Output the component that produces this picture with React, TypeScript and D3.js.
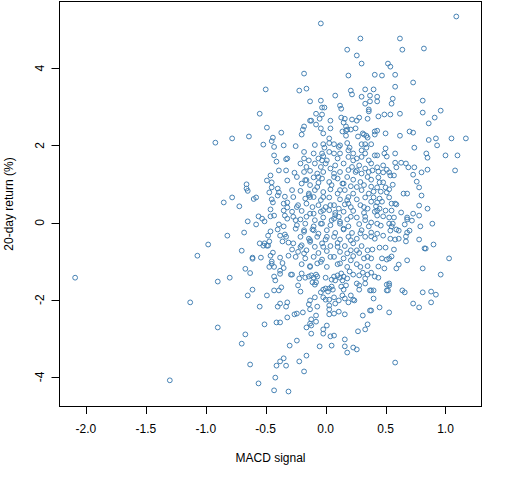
import React from "react";
import * as d3 from "d3";

// Each entry: [MACD signal, 20-day return (%)], grouped by region of the plot
const leftTail: [number, number][] = [
  [-2.09, -1.43], [-1.30, -4.09], [-1.13, -2.07], [-1.07, -0.86], [-0.98, -0.57],
  [-0.50, 3.45], [-0.55, 2.82], [-0.49, 2.46], [-0.37, 2.33], [-0.64, 2.23], [-0.78, 2.18], [-0.44, 2.20],
];

const leftMid: [number, number][] = [
  [-0.92, 2.07], [-0.52, 2.02], [-0.45, 2.11], [-0.43, 1.96], [-0.35, 2.00], [-0.43, 1.74], [-0.32, 1.66],
  [-0.33, 1.64], [-0.41, 1.58], [-0.39, 1.35], [-0.33, 1.35], [-0.46, 1.22], [-0.49, 1.09], [-0.45, 1.04],
  [-0.32, 1.09], [-0.66, 0.99], [-0.45, 0.91], [-0.66, 0.88], [-0.65, 0.82], [-0.40, 0.88], [-0.47, 0.78],
  [-0.39, 0.78], [-0.40, 0.70], [-0.34, 0.67], [-0.78, 0.65], [-0.58, 0.65], [-0.60, 0.61], [-0.45, 0.60],
  [-0.85, 0.52], [-0.44, 0.52], [-0.32, 0.52], [-0.35, 0.49], [-0.72, 0.42], [-0.32, 0.39], [-0.46, 0.34],
  [-0.35, 0.31], [-0.43, 0.18], [-0.34, 0.18], [-0.56, 0.16], [-0.53, 0.10], [-0.46, 0.16], [-0.32, 0.10],
  [-0.51, 0.03], [-0.65, 0.03], [-0.58, -0.05], [-0.39, -0.05], [-0.35, -0.10], [-0.46, -0.23], [-0.40, -0.18],
  [-0.68, -0.26], [-0.48, -0.34], [-0.38, -0.34], [-0.34, -0.31], [-0.82, -0.34], [-0.33, -0.37], [-0.36, -0.49],
  [-0.47, -0.49], [-0.55, -0.54], [-0.51, -0.54], [-0.49, -0.60], [-0.52, -0.60], [-0.48, -0.60], [-0.31, -0.52],
  [-0.70, -0.73], [-0.44, -0.78], [-0.46, -0.86], [-0.61, -0.91], [-0.61, -0.94], [-0.54, -0.91], [-0.38, -0.91],
  [-0.31, -0.86], [-0.45, -1.01], [-0.45, -1.07], [-0.36, -1.05], [-0.47, -1.15], [-0.43, -1.15], [-0.67, -1.20],
  [-0.35, -1.18],
];

const leftLow: [number, number][] = [
  [-0.63, -1.31], [-0.38, -1.25], [-0.38, -1.33], [-0.29, -1.35], [-0.90, -1.53], [-0.80, -1.43], [-0.43, -1.40],
  [-0.42, -1.50], [-0.37, -1.68], [-0.39, -1.76], [-0.43, -1.76], [-0.61, -1.74], [-0.65, -1.89], [-0.49, -1.89],
  [-0.55, -2.18], [-0.38, -2.10], [-0.40, -2.18], [-0.33, -2.18], [-0.32, -2.07], [-0.32, -2.46], [-0.90, -2.72],
  [-0.51, -2.64], [-0.41, -2.59], [-0.38, -2.59], [-0.67, -2.90], [-0.70, -3.14], [-0.30, -3.19], [-0.35, -3.52],
  [-0.38, -3.60], [-0.41, -3.71], [-0.33, -3.71], [-0.63, -3.68], [-0.42, -4.02], [-0.56, -4.17], [-0.43, -4.35],
  [-0.31, -4.38],
];

const centerTop: [number, number][] = [
  [-0.04, 5.16], [0.29, 4.77], [0.18, 4.48], [0.26, 4.33], [0.30, 4.12], [-0.18, 3.86], [0.19, 3.81],
  [-0.22, 3.42], [-0.16, 3.47], [0.21, 3.42], [0.33, 3.45], [0.22, 3.32], [0.08, 3.29], [0.30, 3.26],
  [0.37, 3.29], [-0.13, 3.14], [-0.04, 3.16], [0.33, 3.08], [0.37, 3.14], [0.12, 3.03], [-0.03, 2.98],
  [-0.01, 2.98], [0.13, 2.95], [0.36, 2.93], [0.36, 2.88], [-0.08, 2.82], [-0.03, 2.80], [-0.05, 2.69],
  [0.13, 2.72], [0.16, 2.69], [0.22, 2.67], [0.28, 2.72], [0.26, 2.64], [0.35, 2.69], [-0.13, 2.64],
  [-0.12, 2.64], [0.04, 2.64], [-0.08, 2.54], [-0.18, 2.49], [-0.19, 2.41], [0.17, 2.49], [0.15, 2.59],
  [0.04, 2.44], [-0.04, 2.44], [0.18, 2.41], [0.21, 2.41], [0.25, 2.44], [0.14, 2.36], [0.17, 2.38],
  [-0.20, 2.28], [-0.02, 2.31], [0.17, 2.25], [0.27, 2.23], [0.31, 2.31], [0.32, 2.28], [0.34, 2.25],
  [0.35, 2.20], [0.03, 2.18],
];

const centerMid: [number, number][] = [
  [-0.25, 1.98], [-0.09, 2.01], [-0.02, 2.03], [-0.01, 1.94], [0.03, 2.06], [0.07, 2.03], [0.12, 2.00],
  [0.11, 1.96], [0.18, 2.06], [0.20, 1.94], [0.30, 2.03], [0.33, 2.03], [0.34, 1.94], [-0.18, 1.83],
  [-0.10, 1.79], [-0.02, 1.72], [0.03, 1.83], [0.07, 1.79], [0.12, 1.79], [0.19, 1.87], [0.23, 1.79],
  [0.30, 1.87], [0.33, 1.79], [-0.18, 1.66], [-0.14, 1.61], [-0.06, 1.66], [-0.03, 1.61], [0.10, 1.66],
  [0.19, 1.70], [0.26, 1.66], [0.30, 1.70], [0.36, 1.61], [-0.21, 1.53], [-0.16, 1.44], [-0.09, 1.53],
  [-0.04, 1.44], [0.00, 1.53], [0.04, 1.40], [0.08, 1.48], [0.15, 1.53], [0.22, 1.44], [0.28, 1.48],
  [0.33, 1.40], [-0.26, 1.29], [-0.18, 1.31], [-0.13, 1.34], [-0.07, 1.27], [-0.02, 1.31], [0.07, 1.27],
  [0.12, 1.31], [0.19, 1.36], [0.25, 1.31], [0.30, 1.27], [0.36, 1.31], [-0.24, 1.18], [-0.17, 1.10],
  [-0.10, 1.17], [-0.03, 1.14], [0.03, 1.05], [0.10, 1.14], [0.18, 1.18], [0.23, 1.11], [0.29, 1.05],
  [0.35, 1.18], [-0.20, 1.01], [-0.13, 0.97], [-0.06, 1.03], [0.05, 0.97], [0.14, 1.01], [0.21, 0.94],
  [0.32, 0.97], [-0.28, 0.84], [-0.21, 0.82], [-0.14, 0.75], [-0.09, 0.84], [-0.02, 0.79], [0.04, 0.86],
  [0.10, 0.75], [0.16, 0.84], [0.23, 0.75], [0.30, 0.84], [0.36, 0.75], [-0.27, 0.66], [-0.17, 0.62],
  [-0.10, 0.66], [-0.04, 0.58], [0.03, 0.65], [0.12, 0.60], [0.19, 0.66], [0.26, 0.60], [0.33, 0.65],
  [-0.23, 0.45], [-0.16, 0.49], [-0.11, 0.40], [-0.06, 0.45], [0.00, 0.40], [0.07, 0.45], [0.11, 0.36],
  [0.16, 0.47], [0.21, 0.40], [0.29, 0.45], [0.35, 0.36], [-0.28, 0.28], [-0.20, 0.30], [-0.13, 0.23],
  [-0.04, 0.28], [0.03, 0.32], [0.08, 0.25], [0.15, 0.28], [0.23, 0.30], [0.32, 0.25], [-0.27, 0.15],
  [-0.21, 0.08], [-0.16, 0.15], [-0.09, 0.06], [-0.02, 0.13], [0.05, 0.06], [0.11, 0.15], [0.18, 0.08],
  [0.26, 0.13], [0.33, 0.06], [-0.24, -0.07], [-0.17, -0.03], [-0.10, -0.10], [-0.03, -0.03], [0.04, -0.07],
  [0.12, -0.03], [0.19, -0.10], [0.28, -0.04], [0.36, -0.10], [-0.25, -0.16], [-0.18, -0.24], [-0.11, -0.18],
  [-0.06, -0.29], [0.01, -0.20], [0.08, -0.27], [0.15, -0.18], [0.22, -0.27], [0.30, -0.20], [-0.21, -0.37],
  [-0.14, -0.42], [-0.07, -0.37], [0.00, -0.44], [0.07, -0.37], [0.12, -0.44], [0.19, -0.37], [0.26, -0.42],
  [0.33, -0.37], [-0.27, -0.54], [-0.20, -0.59], [-0.13, -0.50], [-0.09, -0.63], [-0.03, -0.54], [0.04, -0.61],
  [0.10, -0.53], [0.16, -0.61], [0.23, -0.54], [0.30, -0.61], [-0.28, -0.70], [-0.23, -0.76], [-0.16, -0.72],
  [-0.06, -0.79], [0.01, -0.74], [0.12, -0.76], [0.21, -0.72], [0.28, -0.79], [0.35, -0.72], [-0.25, -0.89],
  [-0.17, -0.93], [-0.10, -0.89], [-0.03, -0.96], [0.07, -0.89], [0.15, -0.93], [0.23, -0.87], [0.32, -0.93],
  [-0.20, -1.08], [-0.13, -1.13], [-0.07, -1.06], [0.01, -1.15], [0.10, -1.08], [0.18, -1.15], [0.26, -1.08],
  [0.35, -1.13],
];

// extra overlapping points read from the crowded core
const centerDense: [number, number][] = [
  [-0.14, 0.71], [-0.13, 0.66], [0.04, 0.45], [0.08, 0.19], [0.07, 0.10], [0.18, 0.58], [0.19, 0.49],
  [-0.02, 0.32], [-0.04, -0.03], [0.12, 0.02], [0.15, -0.16], [-0.10, -0.20], [0.01, -0.37], [0.10, -0.63],
  [0.21, -0.46], [0.26, -0.72], [-0.13, -0.46], [-0.21, -0.63], [0.04, -0.89], [-0.04, -1.02], [0.12, -1.06],
  [0.21, -0.98], [0.26, 1.35], [0.23, 1.61], [0.01, 1.61], [-0.03, 1.79], [-0.16, 1.10], [-0.07, 0.92],
  [0.15, 1.01], [0.26, 0.92], [0.32, 0.40], [0.33, 0.15], [0.29, -0.28], [-0.24, 0.40], [-0.25, 0.06],
  [-0.18, -0.20], [-0.06, 1.18], [0.07, 1.18], [0.12, 0.84], [-0.02, 0.66], [-0.10, 0.23], [0.21, 0.15],
  [-0.18, -0.80], [-0.02, -0.63], [0.18, -0.80], [0.35, -0.89], [-0.13, -1.15], [0.29, -1.15],
];

const centerLow: [number, number][] = [
  [-0.28, -1.35], [-0.20, -1.32], [-0.22, -1.45], [-0.17, -1.43], [-0.14, -1.40], [-0.12, -1.37], [-0.10, -1.43],
  [-0.08, -1.35], [-0.07, -1.40], [-0.11, -1.55], [-0.09, -1.61], [-0.08, -1.55], [-0.23, -1.63], [0.00, -1.43],
  [0.05, -1.48], [0.07, -1.40], [0.08, -1.50], [0.10, -1.37], [0.12, -1.43], [0.13, -1.32], [0.15, -1.40],
  [0.14, -1.50], [0.18, -1.45], [0.20, -1.27], [0.23, -1.35], [0.28, -1.37], [0.31, -1.30], [0.33, -1.45],
  [0.35, -1.35], [0.26, -1.58], [0.28, -1.63], [0.33, -1.58], [-0.21, -1.79], [-0.04, -1.81], [-0.02, -1.74],
  [0.00, -1.71], [0.02, -1.79], [0.05, -1.66], [0.03, -1.71], [0.06, -1.74], [0.13, -1.66], [0.15, -1.74],
  [0.17, -1.63], [0.28, -1.74], [0.37, -1.76], [-0.09, -1.94], [-0.02, -1.94], [0.00, -2.00], [0.03, -2.00],
  [0.07, -1.94], [0.14, -1.89], [0.16, -1.97], [0.21, -1.89], [0.19, -2.07], [0.23, -2.00], [0.24, -2.02],
  [-0.13, -2.02], [-0.14, -2.12], [-0.07, -2.18], [0.03, -2.15], [0.11, -2.02], [0.08, -2.10], [0.03, -2.25],
  [-0.13, -2.25], [-0.26, -2.38], [-0.24, -2.36], [-0.19, -2.33], [-0.08, -2.41], [0.03, -2.38], [0.07, -2.36],
  [0.11, -2.31], [0.16, -2.38], [0.31, -2.41], [0.37, -2.28], [-0.12, -2.51], [-0.08, -2.57], [-0.13, -2.62],
  [-0.12, -2.67], [-0.16, -2.72], [0.01, -2.67], [-0.02, -2.77], [0.35, -2.64], [0.33, -2.77], [0.27, -2.82],
  [-0.12, -2.88], [-0.02, -2.88], [0.04, -2.95], [0.07, -2.93], [-0.24, -3.06], [0.16, -3.03], [-0.05, -3.21],
  [0.05, -3.19], [0.16, -3.21], [0.23, -3.24], [0.26, -3.29], [0.18, -3.37], [-0.16, -3.45], [-0.22, -3.60],
  [-0.18, -3.86],
];

const rightTop: [number, number][] = [
  [1.09, 5.34], [0.62, 4.77], [0.64, 4.48], [0.82, 4.51], [0.52, 4.12], [0.54, 4.04], [0.41, 3.83],
  [0.47, 3.81], [0.58, 3.83], [0.73, 3.63], [0.40, 3.45], [0.58, 3.52], [0.43, 3.26], [0.43, 3.14],
  [0.56, 3.21], [0.55, 3.08], [0.81, 3.16], [0.96, 2.90], [0.81, 2.85], [0.91, 2.72], [0.86, 2.57],
  [0.44, 2.75], [0.49, 2.80], [0.54, 2.80], [0.62, 2.82], [0.41, 2.36], [0.43, 2.38], [0.41, 2.28],
  [0.50, 2.31], [0.62, 2.25], [0.70, 2.36], [0.73, 2.33], [0.86, 2.14], [0.92, 2.18], [1.05, 2.18],
  [1.17, 2.18],
];

const rightMid: [number, number][] = [
  [0.38, 2.03], [0.50, 1.92], [0.74, 1.94], [0.93, 2.00], [0.41, 1.74], [0.43, 1.74], [0.49, 1.79],
  [0.51, 1.71], [0.58, 1.79], [0.84, 1.79], [0.85, 1.68], [1.00, 1.74], [1.10, 1.74], [0.38, 1.53],
  [0.43, 1.43], [0.48, 1.48], [0.51, 1.37], [0.58, 1.55], [0.63, 1.55], [0.67, 1.53], [0.59, 1.43],
  [0.69, 1.43], [0.74, 1.43], [0.85, 1.37], [0.80, 1.30], [0.73, 1.24], [1.08, 1.35], [0.39, 1.35],
  [0.44, 1.32], [0.48, 1.30], [0.53, 1.30], [0.54, 1.22], [0.57, 1.22], [0.44, 1.17], [0.38, 1.11],
  [0.45, 1.04], [0.48, 1.04], [0.56, 0.98], [0.76, 1.06], [0.38, 0.93], [0.43, 0.91], [0.50, 0.91],
  [0.53, 0.86], [0.78, 0.91], [0.40, 0.80], [0.46, 0.80], [0.51, 0.78], [0.65, 0.75], [0.68, 0.75],
  [0.80, 0.70], [0.40, 0.65], [0.45, 0.62], [0.53, 0.65], [0.38, 0.54], [0.43, 0.52], [0.47, 0.54],
  [0.55, 0.49], [0.58, 0.49], [0.59, 0.47], [0.78, 0.44], [0.85, 0.36], [0.42, 0.42], [0.45, 0.36],
  [0.50, 0.31], [0.55, 0.31], [0.41, 0.28], [0.43, 0.31], [0.63, 0.26], [0.73, 0.23], [0.78, 0.18],
  [0.43, 0.18], [0.48, 0.16], [0.53, 0.13], [0.57, 0.13], [0.68, 0.13], [0.68, 0.08], [0.72, 0.05],
  [0.38, 0.00], [0.43, -0.03], [0.46, -0.08], [0.53, -0.03], [0.56, -0.03], [0.66, -0.05], [0.89, -0.03],
  [0.79, -0.10], [0.55, -0.10], [0.59, -0.18], [0.54, -0.21], [0.61, -0.21], [0.70, -0.21], [0.68, -0.26],
  [0.38, -0.26], [0.43, -0.29], [0.48, -0.34], [0.38, -0.36], [0.41, -0.42], [0.54, -0.42], [0.58, -0.44],
  [0.61, -0.42], [0.67, -0.36], [0.67, -0.49], [0.78, -0.44], [0.90, -0.57], [0.39, -0.70], [0.45, -0.65],
  [0.50, -0.65], [0.57, -0.70], [0.825, -0.67], [0.835, -0.675], [0.55, -0.88], [0.38, -0.93], [0.47, -0.93],
  [0.51, -0.96], [0.53, -0.93], [0.68, -0.98], [1.03, -0.93], [0.61, -1.09], [0.44, -1.14], [0.49, -1.19],
  [0.59, -1.19], [0.81, -1.19],
];

const rightLow: [number, number][] = [
  [0.38, -1.30], [0.96, -1.35], [0.41, -1.40], [0.44, -1.43], [0.51, -1.61], [0.53, -1.58], [0.53, -1.63],
  [0.38, -1.76], [0.40, -1.76], [0.51, -1.76], [0.52, -1.76], [0.64, -1.76], [0.66, -1.81], [0.81, -1.81],
  [0.88, -1.79], [0.92, -1.87], [0.40, -1.97], [0.73, -2.10], [0.78, -2.20], [0.88, -2.07], [0.45, -2.20],
  [0.53, -2.33], [0.38, -2.28], [0.58, -3.63],
];

const xTicks = [-2, -1.5, -1, -0.5, 0, 0.5, 1];
const yTicks = [-4, -2, 0, 2, 4];
const xTitle = "MACD signal";
const yTitle = "20-day return (%)";

const points = [
  ...leftTail, ...leftMid, ...leftLow,
  ...centerTop, ...centerMid, ...centerDense, ...centerLow,
  ...rightTop, ...rightMid, ...rightLow,
];

function padded(ext: [number, number]): [number, number] {
  const r = ext[1] - ext[0];
  return [ext[0] - 0.04 * r, ext[1] + 0.04 * r];
}

export default function App() {
  const W = 512;
  const H = 480;
  const left = 59.5;
  const right = 481.5;
  const top = 1.5;
  const bottom = 406.5;

  const x = d3
    .scaleLinear()
    .domain(padded(d3.extent(points, (d) => d[0]) as [number, number]))
    .range([left, right]);
  const y = d3
    .scaleLinear()
    .domain(padded(d3.extent(points, (d) => d[1]) as [number, number]))
    .range([bottom, top]);

  const font = "'Liberation Sans', Arial, Helvetica, sans-serif";
  const color = "#4682b4";

  return (
    <svg
      width={W}
      height={H}
      style={{ position: "absolute", left: 0, top: 0, background: "#fff" }}
      fontFamily={font}
      fontSize={12}
    >
      <rect x={0} y={0} width={W} height={H} fill="#fff" />
      {points.map((d, i) => (
        <circle
          key={i}
          cx={x(d[0])}
          cy={y(d[1])}
          r={2.4}
          fill="none"
          stroke={color}
          strokeWidth={1}
        />
      ))}
      <rect
        x={left}
        y={top}
        width={right - left}
        height={bottom - top}
        fill="none"
        stroke="#000"
        strokeWidth={1}
      />
      {xTicks.map((t) => (
        <g key={"x" + t}>
          <line
            x1={Math.round(x(t)) + 0.5}
            x2={Math.round(x(t)) + 0.5}
            y1={bottom}
            y2={bottom + 7.5}
            stroke="#000"
          />
          <text x={x(t)} y={432.5} textAnchor="middle" fill="#000">
            {t.toFixed(1)}
          </text>
        </g>
      ))}
      {yTicks.map((t) => (
        <g key={"y" + t}>
          <line
            x1={left - 8}
            x2={left}
            y1={Math.round(y(t)) + 0.5}
            y2={Math.round(y(t)) + 0.5}
            stroke="#000"
          />
          <text
            transform={`translate(${43.5},${y(t)}) rotate(-90)`}
            textAnchor="middle"
            fill="#000"
          >
            {String(t)}
          </text>
        </g>
      ))}
      <text x={(left + right) / 2} y={462} textAnchor="middle" fill="#000">
        {xTitle}
      </text>
      <text
        transform={`translate(${13},${(top + bottom) / 2}) rotate(-90)`}
        textAnchor="middle"
        fill="#000"
      >
        {yTitle}
      </text>
    </svg>
  );
}
